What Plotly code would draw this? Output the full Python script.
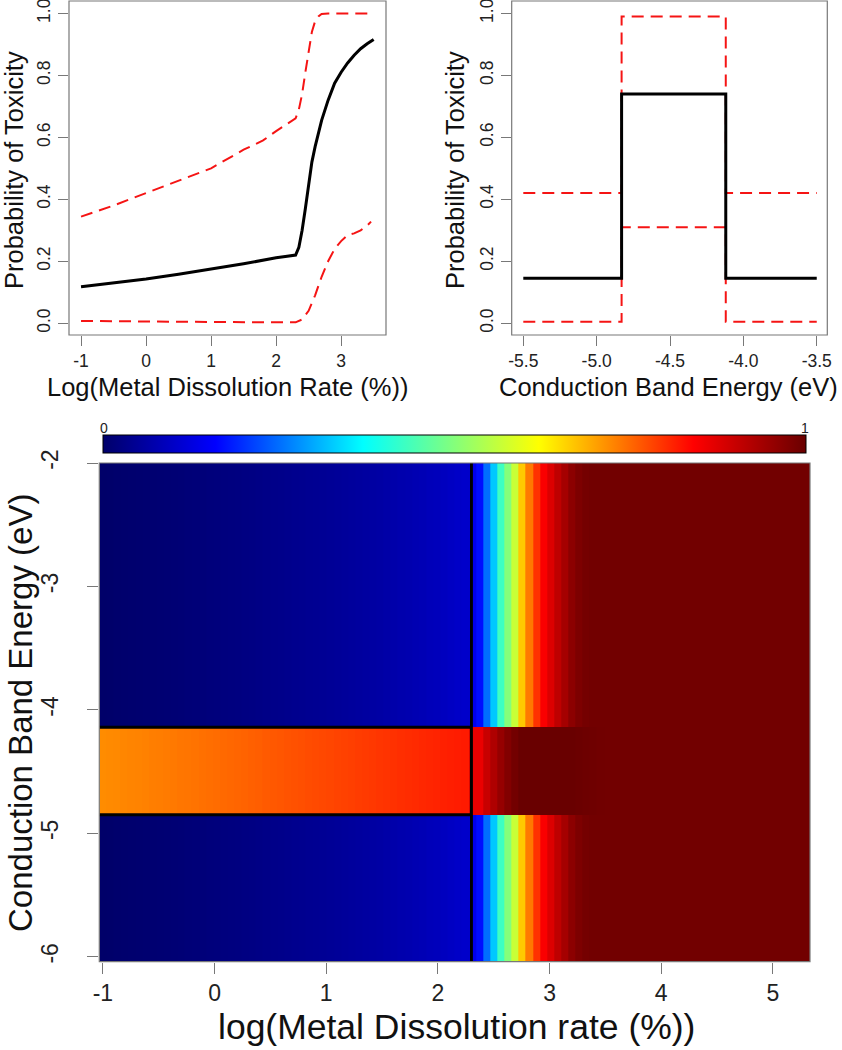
import numpy as np
import plotly.graph_objects as go

W, H = 842, 1050
def px(x): return x / W
def py(y): return 1 - y / H

FONT = "Liberation Sans, Arial, sans-serif"

# ---------------- data: top-left (metal dissolution) ----------------
mdr_x_mean = [-1, -0.5, 0, 0.5, 1, 1.5, 2, 2.3, 2.35, 2.4, 2.45, 2.5, 2.55, 2.6, 2.65,
              2.7, 2.8, 2.9, 3.0, 3.1, 3.2, 3.3, 3.4, 3.5]
mdr_mean = [0.118, 0.130, 0.143, 0.158, 0.174, 0.192, 0.211, 0.220, 0.245, 0.300, 0.370,
            0.450, 0.520, 0.570, 0.615, 0.655, 0.720, 0.775, 0.810, 0.840, 0.865, 0.886,
            0.902, 0.916]
mdr_x_upper = [-1, -0.5, 0, 0.5, 1, 1.5, 1.8, 2.0, 2.3, 2.35, 2.4, 2.45, 2.5, 2.55, 2.6,
               2.65, 2.7, 2.8, 3.5]
mdr_upper = [0.344, 0.380, 0.420, 0.460, 0.500, 0.560, 0.590, 0.620, 0.661, 0.690, 0.740,
             0.810, 0.880, 0.940, 0.975, 0.990, 0.998, 1.000, 1.000]
mdr_x_lower = [-1, 0, 1, 2, 2.3, 2.4, 2.5, 2.6, 2.7, 2.8, 2.9, 3.0, 3.1, 3.2, 3.3, 3.4, 3.46]
mdr_lower = [0.0075, 0.005, 0.004, 0.003, 0.003, 0.012, 0.040, 0.090, 0.150, 0.200, 0.240,
             0.265, 0.285, 0.290, 0.300, 0.315, 0.328]
mdr_ticks = [-1, 0, 1, 2, 3]
mdr_ticktext = ["-1", "0", "1", "2", "3"]

# ---------------- data: top-right (conduction band energy) ----------------
cbe_x = [-5.5, -4.83, -4.12, -3.5]
cbe_mean = [0.145, 0.74, 0.145, 0.145]
cbe_upper = [0.42, 0.99, 0.42, 0.42]
cbe_lower = [0.005, 0.31, 0.005, 0.005]
cbe_ticks = [-5.5, -5.0, -4.5, -4.0, -3.5]
cbe_ticktext = ["-5.5", "-5.0", "-4.5", "-4.0", "-3.5"]

prob_ticks = [0, 0.2, 0.4, 0.6, 0.8, 1.0]
prob_ticktext = ["0.0", "0.2", "0.4", "0.6", "0.8", "1.0"]

# ---------------- data: bottom heatmap ----------------
hm_x = np.linspace(-1, 5.3, 100)          # grid of log dissolution rate
hm_y_edges = [-6.04, -4.85, -4.14, -2.0]  # outside band / inside band / outside band
split_x = 2.3
band_lo, band_hi = -4.85, -4.14
hm_xticks = [-1, 0, 1, 2, 3, 4, 5]
hm_xticktext = ["-1", "0", "1", "2", "3", "4", "5"]
hm_yticks = [-6, -5, -4, -3, -2]
hm_yticktext = ["-6", "-5", "-4", "-3", "-2"]

prob_outside_band = [
    0.000, 0.001, 0.003, 0.004, 0.005, 0.006, 0.007, 0.008, 0.010, 0.011,
    0.012, 0.013, 0.015, 0.016, 0.017, 0.019, 0.020, 0.022, 0.023, 0.025,
    0.027, 0.028, 0.030, 0.032, 0.034, 0.035, 0.037, 0.039, 0.041, 0.043,
    0.044, 0.046, 0.048, 0.050, 0.052, 0.054, 0.056, 0.059, 0.061, 0.063,
    0.066, 0.069, 0.072, 0.075, 0.078, 0.081, 0.085, 0.088, 0.092, 0.096,
    0.100, 0.104, 0.140, 0.170, 0.250, 0.325, 0.430, 0.500, 0.566, 0.667,
    0.736, 0.797, 0.845, 0.877, 0.909, 0.936, 0.963, 0.979, 0.987, 0.990,
    0.990, 0.990, 0.990, 0.990, 0.990, 0.990, 0.990, 0.990, 0.990, 0.990,
    0.990, 0.990, 0.990, 0.990, 0.990, 0.990, 0.990, 0.990, 0.990, 0.990,
    0.990, 0.990, 0.990, 0.990, 0.990, 0.990, 0.990, 0.990, 0.990, 0.990]
prob_inside_band = [
    0.719, 0.721, 0.722, 0.724, 0.726, 0.727, 0.729, 0.731, 0.732, 0.734,
    0.736, 0.738, 0.739, 0.741, 0.743, 0.745, 0.747, 0.749, 0.751, 0.753,
    0.755, 0.757, 0.759, 0.762, 0.764, 0.766, 0.768, 0.770, 0.772, 0.774,
    0.776, 0.778, 0.780, 0.782, 0.784, 0.786, 0.788, 0.790, 0.792, 0.794,
    0.796, 0.798, 0.800, 0.802, 0.804, 0.806, 0.808, 0.810, 0.812, 0.814,
    0.816, 0.818, 0.861, 0.861, 0.899, 0.925, 0.952, 0.973, 0.989, 1.000,
    1.000, 1.000, 1.000, 1.000, 1.000, 1.000, 1.000, 0.998, 0.996, 0.994,
    0.992, 0.990, 0.990, 0.990, 0.990, 0.990, 0.990, 0.990, 0.990, 0.990,
    0.990, 0.990, 0.990, 0.990, 0.990, 0.990, 0.990, 0.990, 0.990, 0.990,
    0.990, 0.990, 0.990, 0.990, 0.990, 0.990, 0.990, 0.990, 0.990, 0.990]

jet_scale = [[0.0, "rgb(0,0,105)"], [0.16, "rgb(0,0,255)"], [0.37, "rgb(0,255,255)"],
             [0.62, "rgb(255,255,0)"], [0.84, "rgb(255,0,0)"], [1.0, "rgb(105,0,0)"]]

RED = "rgb(245,20,20)"
GRAY = "rgb(120,120,120)"
DASH = "12px,7px"

fig = go.Figure()

# top-left
fig.add_trace(go.Scatter(x=mdr_x_upper, y=mdr_upper, mode="lines", xaxis="x", yaxis="y",
                         line=dict(color=RED, width=2, dash=DASH)))
fig.add_trace(go.Scatter(x=mdr_x_lower, y=mdr_lower, mode="lines", xaxis="x", yaxis="y",
                         line=dict(color=RED, width=2, dash=DASH)))
fig.add_trace(go.Scatter(x=mdr_x_mean, y=mdr_mean, mode="lines", xaxis="x", yaxis="y",
                         line=dict(color="black", width=3)))

# top-right
fig.add_trace(go.Scatter(x=cbe_x, y=cbe_upper, mode="lines", xaxis="x2", yaxis="y2",
                         line=dict(color=RED, width=2, dash=DASH, shape="hv")))
fig.add_trace(go.Scatter(x=cbe_x, y=cbe_lower, mode="lines", xaxis="x2", yaxis="y2",
                         line=dict(color=RED, width=2, dash=DASH, shape="hv")))
fig.add_trace(go.Scatter(x=cbe_x, y=cbe_mean, mode="lines", xaxis="x2", yaxis="y2",
                         line=dict(color="black", width=3, shape="hv")))

# bottom heatmap
fig.add_trace(go.Heatmap(
    x=hm_x, y=hm_y_edges, z=[prob_outside_band, prob_inside_band, prob_outside_band],
    zmin=0, zmax=1, colorscale=jet_scale, xaxis="x3", yaxis="y3", hoverinfo="skip",
    colorbar=dict(orientation="h", x=px((102.7 + 806) / 2), xanchor="center",
                  y=py(453.5), yanchor="bottom", len=703, lenmode="pixels",
                  thickness=18, thicknessmode="pixels", outlinewidth=1,
                  outlinecolor="black", showticklabels=False, ticks="",
                  xpad=0, ypad=0)))
x_lo_edge = hm_x[0] - (hm_x[1] - hm_x[0]) / 2
x_hi_edge = hm_x[-1] + (hm_x[1] - hm_x[0]) / 2
fig.add_trace(go.Scatter(x=[split_x, split_x], y=[hm_y_edges[0], hm_y_edges[-1]],
                         mode="lines", xaxis="x3", yaxis="y3",
                         line=dict(color="black", width=3)))
for yb in (band_lo, band_hi):
    fig.add_trace(go.Scatter(x=[x_lo_edge, split_x], y=[yb, yb], mode="lines",
                             xaxis="x3", yaxis="y3", line=dict(color="black", width=3)))

tick_font_top = dict(family=FONT, size=17.5, color="#222")
tick_font_bot = dict(family=FONT, size=23, color="#222")

common = dict(showgrid=False, zeroline=False, showline=False, ticks="outside",
              tickcolor=GRAY, tickwidth=1, automargin=False, ticklabeloverflow="allow",
              tickmode="array")

fig.update_layout(
    template="none",
    width=W, height=H, margin=dict(l=0, r=0, t=0, b=0, pad=0, autoexpand=False),
    paper_bgcolor="white", plot_bgcolor="white", showlegend=False,
    xaxis=dict(domain=[px(69), px(386)], range=[-1.185, 3.69], anchor="y",
               tickvals=mdr_ticks, ticktext=mdr_ticktext, ticklen=10,
               tickfont=tick_font_top, **common),
    yaxis=dict(domain=[py(335), py(1)], range=[-0.038, 1.04], anchor="x",
               tickvals=prob_ticks, ticktext=prob_ticktext,
               tickangle=-90, ticklen=10, ticklabelstandoff=1, tickfont=tick_font_top, **common),
    xaxis2=dict(domain=[px(511.7), px(827.3)], range=[-5.579, -3.428], anchor="y2",
                tickvals=cbe_ticks, ticktext=cbe_ticktext,
                ticklen=10, tickfont=tick_font_top, **common),
    yaxis2=dict(domain=[py(335), py(1)], range=[-0.038, 1.04], anchor="x2",
                tickvals=prob_ticks, ticktext=prob_ticktext,
                tickangle=-90, ticklen=10, ticklabelstandoff=1, tickfont=tick_font_top, **common),
    xaxis3=dict(domain=[px(99.3), px(810)], range=[x_lo_edge, x_hi_edge], anchor="y3",
                tickvals=hm_xticks, ticktext=hm_xticktext, ticklen=11,
                tickfont=tick_font_bot, **common),
    yaxis3=dict(domain=[py(961.7), py(463)], range=[hm_y_edges[0], hm_y_edges[-1]], anchor="x3",
                tickvals=hm_yticks, ticktext=hm_yticktext, tickangle=-90, ticklen=11,
                ticklabelstandoff=20, tickfont=tick_font_bot, **common),
)

# boxes
for (x0, x1, y0, y1) in [(69, 386, 1, 335), (511.7, 827.3, 1, 335), (99.3, 810, 463, 961.7)]:
    fig.add_shape(type="rect", xref="paper", yref="paper", x0=px(x0), x1=px(x1),
                  y0=py(y1), y1=py(y0), line=dict(color=GRAY, width=1.2), layer="above")

title_font_top = dict(family=FONT, size=25.5, color="#111")
ann = [
    dict(text="Log(Metal Dissolution Rate (%))", x=px(227), y=py(387), font=title_font_top),
    dict(text="Probability of Toxicity", x=px(14), y=py(170), font=title_font_top, textangle=-90),
    dict(text="Conduction Band Energy (eV)", x=px(668), y=py(387), font=title_font_top),
    dict(text="Probability of Toxicity", x=px(455), y=py(170), font=title_font_top, textangle=-90),
    dict(text="log(Metal Dissolution rate (%))", x=px(456), y=py(1027),
         font=dict(family=FONT, size=35.5, color="#111")),
    dict(text="Conduction Band Energy (eV)", x=px(20), y=py(713),
         font=dict(family=FONT, size=33, color="#111"), textangle=-90),
    dict(text="0", x=px(103.5), y=py(428), font=dict(family=FONT, size=14, color="#222")),
    dict(text="1", x=px(805), y=py(428), font=dict(family=FONT, size=14, color="#222")),
]
for a in ann:
    fig.add_annotation(xref="paper", yref="paper", showarrow=False,
                       xanchor="center", yanchor="middle", **a)

fig.write_html("out.html", config={"displayModeBar": False, "staticPlot": True},
               post_script="document.body.style.margin='0';document.body.style.overflow='hidden';")
